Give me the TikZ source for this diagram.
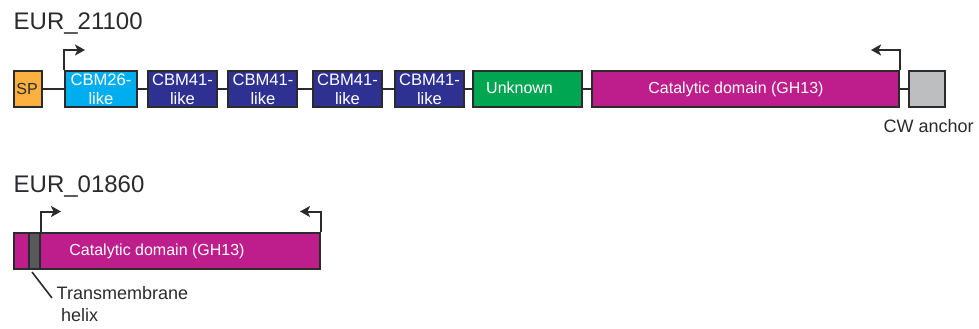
\documentclass[tikz,border=0pt]{standalone}
\usepackage{fontspec}
\setmainfont{Liberation Sans}
\usetikzlibrary{arrows.meta}
\definecolor{edgec}{HTML}{2B2B2E}
\definecolor{spc}{HTML}{FBB040}
\definecolor{cbmA}{HTML}{00AEEF}
\definecolor{cbmB}{HTML}{2E3192}
\definecolor{unk}{HTML}{00A651}
\definecolor{cat}{HTML}{BE1E8C}
\definecolor{anch}{HTML}{BCBEC0}
\definecolor{tm}{HTML}{58595B}
\tikzset{
  x=1pt,y=-1pt,
  dom/.style={draw=edgec,line width=2.2pt,minimum height=36pt,inner sep=0pt,anchor=north west},
  link/.style={draw=edgec,line width=2.2pt},
  site/.style={draw=edgec,line width=2pt,-{Stealth[length=10pt,width=11pt,inset=2.5pt]}},
  title/.style={anchor=west,inner sep=0pt,text=edgec,font=\fontsize{24}{28}\selectfont},
  note/.style={inner sep=0pt,text=edgec,align=left,font=\fontsize{18}{22}\selectfont},
  lab/.style={inner sep=0pt,text=white,align=center,font=\fontsize{16}{19}\selectfont},
  labb/.style={lab,font=\fontsize{16.6}{19}\selectfont}
}
\begin{document}
\begin{tikzpicture}
\useasboundingbox (0,0) rectangle (979,329);
\node[title] (t1) at (13.5,24) {EUR\_21100};
\node[title] (t2) at (13.5,187) {EUR\_01860};
% top row
\node[dom,fill=spc,minimum width=28pt] (sp) at (12.5,70) {};
\node[dom,fill=cbmA,minimum width=72pt] (c26) at (63.5,70) {};
\node[dom,fill=cbmB,minimum width=69pt] (c1) at (146.5,70) {};
\node[dom,fill=cbmB,minimum width=69pt] (c2) at (227,70) {};
\node[dom,fill=cbmB,minimum width=69pt] (c3) at (311.5,70) {};
\node[dom,fill=cbmB,minimum width=69pt] (c4) at (393.5,70) {};
\node[dom,fill=unk,minimum width=109pt] (u) at (472,70) {};
\node[dom,fill=cat,minimum width=307pt] (g) at (591,70) {};
\node[dom,fill=anch,minimum width=36pt] (cw) at (907.5,70) {};
\node[lab,text=edgec] (splab) at (27,89) {SP};
\node[labb] (l26) at (101,89.5) {CBM26-\\like};
\node[labb] (l1) at (182.5,89.5) {CBM41-\\like};
\node[labb] (l2) at (263,89.5) {CBM41-\\like};
\node[labb] (l3) at (347.5,89.5) {CBM41-\\like};
\node[labb] (l4) at (429.5,89.5) {CBM41-\\like};
\node[lab,anchor=west] (ulab) at (486,88) {Unknown};
\node[lab] (glab) at (736,89.5) {Catalytic domain (GH13)};
\node[note,anchor=west] (cwl) at (883.5,126.5) {CW anchor};
\foreach \a/\b in {sp/c26,c26/c1,c1/c2,c2/c3,c3/c4,c4/u,u/g,g/cw}{\draw[link] (\a) -- (\b);}
\coordinate (a1) at (85,50);
\coordinate (a2) at (871,50);
\draw[site] (c26.north west) -- (c26.north west |- a1) -- (a1);
\draw[site] (g.north east) -- (g.north east |- a2) -- (a2);
% bottom row
\node[dom,fill=cat,minimum width=306.5pt] (b) at (12.5,232) {};
\node[dom,fill=tm,minimum width=11.5pt] (h) at (27.5,232) {};
\node[lab] (blab) at (157,251) {Catalytic domain (GH13)};
\node[note,anchor=north west] (hl) at (56.5,286.5) {Transmembrane\\\hspace*{4.5pt}helix};
\coordinate (a3) at (61,211.5);
\coordinate (a4) at (300,211.5);
\draw[site] (h.north east) -- (h.north east |- a3) -- (a3);
\draw[site] (b.north east) -- (b.north east |- a4) -- (a4);
\coordinate (l1p) at (32,272);
\coordinate (l2p) at (52,298);
\draw[link,line width=1.6pt] (l1p) -- (l2p);
\end{tikzpicture}
\end{document}
